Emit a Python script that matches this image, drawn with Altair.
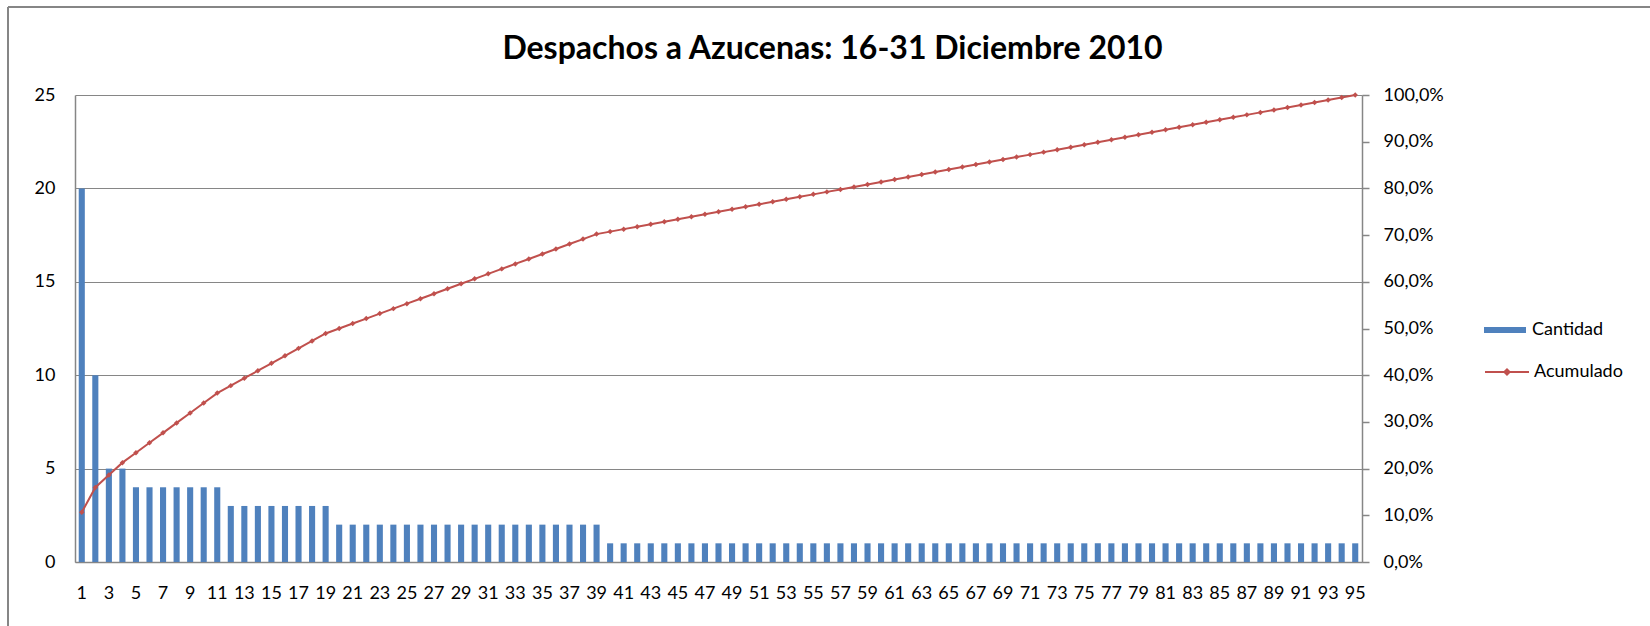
import altair as alt
import pandas as pd

# Despachos por cliente, ordenados de mayor a menor (diagrama de Pareto)
categorias = list(range(1, 96))
cantidad = [
    20, 10, 5, 5,
    4, 4, 4, 4, 4, 4, 4,
    3, 3, 3, 3, 3, 3, 3, 3,
    2, 2, 2, 2, 2, 2, 2, 2, 2, 2, 2, 2, 2, 2, 2, 2, 2, 2, 2, 2,
    1, 1, 1, 1, 1, 1, 1, 1, 1, 1, 1, 1, 1, 1, 1, 1, 1, 1, 1, 1,
    1, 1, 1, 1, 1, 1, 1, 1, 1, 1, 1, 1, 1, 1, 1, 1, 1, 1, 1, 1,
    1, 1, 1, 1, 1, 1, 1, 1, 1, 1, 1, 1, 1, 1, 1, 1,
]
etiquetas_x = list(range(1, 96, 2))
ticks_cantidad = [0, 5, 10, 15, 20, 25]
ticks_pct = [0, 0.1, 0.2, 0.3, 0.4, 0.5, 0.6, 0.7, 0.8, 0.9, 1.0]

AZUL = "#4F81BD"
ROJO = "#C0504D"
GRIS = "#868686"
FUENTE = "Lato"

df = pd.DataFrame({"n": categorias, "Cantidad": cantidad})

PLOT_W, PLOT_H = 1287, 467
PAD_L, PAD_T = 75, 95

base = (
    alt.Chart(df)
    .transform_window(acum="sum(Cantidad)", sort=[{"field": "n"}], frame=[None, 0])
    .transform_joinaggregate(total="sum(Cantidad)")
    .transform_calculate(
        pct="datum.acum / datum.total",
        serie_b="'Cantidad'",
        serie_l="'Acumulado'",
    )
)

x_enc = alt.X(
    "n:O",
    scale=alt.Scale(paddingInner=0.55, paddingOuter=0.275),
    axis=alt.Axis(
        values=etiquetas_x,
        title=None,
        labelAngle=0,
        ticks=False,
        domainColor=GRIS,
        domainWidth=1.5,
        labelPadding=22,
        labelFont=FUENTE,
        labelFontSize=18,
        labelColor="black",
    ),
)

barras = base.mark_bar(color=AZUL).encode(
    x=x_enc,
    y=alt.Y(
        "Cantidad:Q",
        scale=alt.Scale(domain=[0, 25], nice=False),
        axis=alt.Axis(
            values=ticks_cantidad,
            title=None,
            ticks=False,
            grid=True,
            gridColor=GRIS,
            gridWidth=1.2,
            domainColor=GRIS,
            domainWidth=1.5,
            labelPadding=20,
            labelFont=FUENTE,
            labelFontSize=18,
            labelColor="black",
        ),
    ),
    color=alt.Color(
        "serie_b:N",
        scale=alt.Scale(domain=["Cantidad"], range=[AZUL]),
        legend=alt.Legend(
            title=None,
            orient="none",
            legendX=1409,
            legendY=214,
            padding=0,
            symbolType="M-1,-0.143H1V0.143H-1Z",
            symbolSize=1764,
            symbolStrokeWidth=0,
            symbolOpacity=1,
            labelOffset=6,
            labelFont=FUENTE,
            labelFontSize=18,
            labelColor="black",
        ),
    ),
)

eje_pct = alt.Axis(
    orient="right",
    values=ticks_pct,
    title=None,
    grid=False,
    tickSize=7,
    tickColor=GRIS,
    tickWidth=1.5,
    domainColor=GRIS,
    domainWidth=1.5,
    labelPadding=14,
    labelFont=FUENTE,
    labelFontSize=18,
    labelColor="black",
    labelExpr="replace(format(datum.value, '.1%'), '.', ',')",
)

linea = base.mark_line(strokeWidth=2).encode(
    x="n:O",
    y=alt.Y("pct:Q", scale=alt.Scale(domain=[0, 1], nice=False), axis=eje_pct),
    stroke=alt.Stroke(
        "serie_l:N",
        scale=alt.Scale(domain=["Acumulado"], range=[ROJO]),
        legend=alt.Legend(
            title=None,
            orient="none",
            legendX=1409,
            legendY=254,
            padding=0,
            symbolType="M-1,0H1M-0.12,0L0,-0.12L0.12,0L0,0.12Z",
            symbolSize=1936,
            symbolStrokeWidth=2,
            symbolFillColor=ROJO,
            labelOffset=4,
            labelFont=FUENTE,
            labelFontSize=18,
            labelColor="black",
        ),
    ),
)

puntos = base.mark_point(shape="diamond", filled=True, size=30, color=ROJO, opacity=1).encode(
    x="n:O",
    y=alt.Y("pct:Q", scale=alt.Scale(domain=[0, 1], nice=False), axis=None),
)

# Marco exterior del gráfico (bordes superior e izquierdo)
marco_df = pd.DataFrame({"k": [0]})
borde_izq = alt.Chart(marco_df).mark_rule(color=GRIS, strokeWidth=2).encode(
    x=alt.value(8 - PAD_L), y=alt.value(7 - PAD_T), y2=alt.value(640 - PAD_T)
)
borde_sup = alt.Chart(marco_df).mark_rule(color=GRIS, strokeWidth=2).encode(
    x=alt.value(8 - PAD_L), x2=alt.value(1660 - PAD_L), y=alt.value(7 - PAD_T)
)

chart = (
    alt.layer(barras, linea, puntos, borde_izq, borde_sup)
    .resolve_scale(y="independent", color="independent", stroke="independent")
    .properties(
        width=PLOT_W,
        height=PLOT_H,
        title=alt.TitleParams(
            "Despachos a Azucenas: 16-31 Diciembre 2010",
            font=FUENTE,
            fontSize=32,
            fontWeight="bold",
            color="black",
            anchor="middle",
            frame="group",
            dx=114,
            offset=-60,
        ),
        autosize=alt.AutoSizeParams(type="none"),
        padding={"left": PAD_L, "top": PAD_T, "right": 1650 - PAD_L - PLOT_W, "bottom": 626 - PAD_T - PLOT_H},
        background="white",
    )
    .configure_view(stroke=None)
)

chart.save("out.html", embed_options={"renderer": "svg", "actions": False})
